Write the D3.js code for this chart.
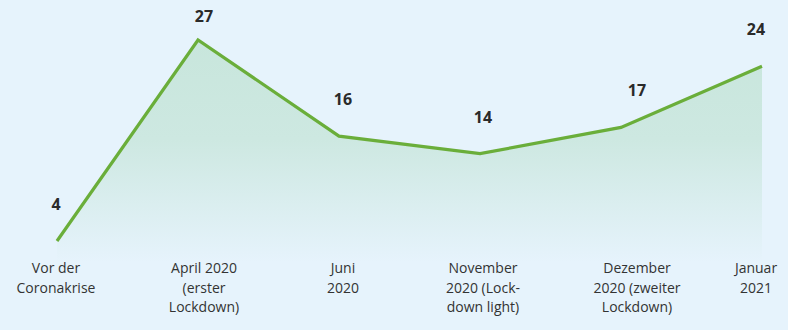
<!DOCTYPE html>
<html><head><meta charset="utf-8">
<script src="https://cdn.jsdelivr.net/npm/d3@7"></script>
<style>
html,body{margin:0;padding:0;background:#e6f3fc;}
svg{display:block;}
</style></head>
<body><svg id="c" width="788" height="330"></svg>
<script>
const categories = [
  ["Vor der","Coronakrise"],
  ["April 2020","(erster","Lockdown)"],
  ["Juni","2020"],
  ["November","2020 (Lock-","down light)"],
  ["Dezember","2020 (zweiter","Lockdown)"],
  ["Januar","2021"]
];
const values = [4, 27, 16, 14, 17, 24];

const W = 788, H = 330;
const svg = d3.select("#c");
svg.append("rect").attr("width", W).attr("height", H).attr("fill", "#e6f3fc");

const x = d3.scalePoint().domain(d3.range(values.length)).range([57, 762]);
const y = d3.scaleLinear().domain([0, 27]).range([276, 40]);
// small horizontal nudges of the text labels (layout only)
const nudge = [-1, 6, 4, 3, 16, -6];

const defs = svg.append("defs");
const g = defs.append("linearGradient").attr("id", "fillg")
  .attr("gradientUnits", "userSpaceOnUse")
  .attr("x1", 0).attr("x2", 0).attr("y1", y(27)).attr("y2", y(0) - 14);
g.append("stop").attr("offset", "0%").attr("stop-color", "#c8e6dc");
g.append("stop").attr("offset", "45%").attr("stop-color", "#cde8e1");
g.append("stop").attr("offset", "100%").attr("stop-color", "#e6f3fc");

const area = d3.area().x((d, i) => x(i)).y0(y(0)).y1(d => y(d));
svg.append("path").datum(values).attr("d", area).attr("fill", "url(#fillg)");

const line = d3.line().x((d, i) => x(i)).y(d => y(d));
svg.append("path").datum(values).attr("d", line)
  .attr("fill", "none").attr("stroke", "#6aae3a").attr("stroke-width", 3.2)
  .attr("stroke-linejoin", "miter");

svg.append("g").selectAll("text").data(values).join("text")
  .attr("x", (d, i) => x(i) + nudge[i])
  .attr("y", d => Math.max(22, y(d) - 31))
  .attr("text-anchor", "middle")
  .attr("font-family", "'Noto Sans', sans-serif")
  .attr("font-weight", "bold")
  .attr("font-size", 16)
  .attr("fill", "#2a2a2a")
  .text(d => d);

const lab = svg.append("g").selectAll("text").data(categories).join("text")
  .attr("x", (d, i) => x(i) + nudge[i])
  .attr("y", 273)
  .attr("text-anchor", "middle")
  .attr("font-family", "'Open Sans', sans-serif")
  .attr("font-size", 14)
  .attr("fill", "#333");
lab.selectAll("tspan").data(d => d).join("tspan")
  .attr("x", function() { return d3.select(this.parentNode).attr("x"); })
  .attr("dy", (d, j) => j === 0 ? 0 : 19.5)
  .text(d => d);
</script></body></html>
